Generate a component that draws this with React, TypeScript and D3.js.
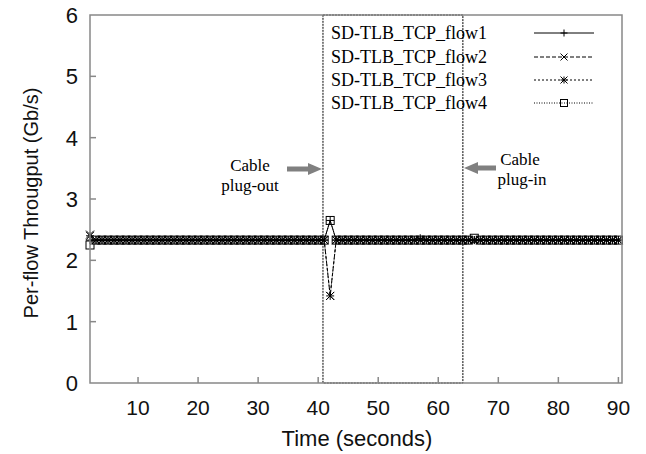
import React from "react";
import * as d3 from "d3";

const times = [
  2, 3, 4, 5, 6, 7, 8, 9, 10, 11,
  12, 13, 14, 15, 16, 17, 18, 19, 20, 21,
  22, 23, 24, 25, 26, 27, 28, 29, 30, 31,
  32, 33, 34, 35, 36, 37, 38, 39, 40, 41,
  42, 43, 44, 45, 46, 47, 48, 49, 50, 51,
  52, 53, 54, 55, 56, 57, 58, 59, 60, 61,
  62, 63, 64, 65, 66, 67, 68, 69, 70, 71,
  72, 73, 74, 75, 76, 77, 78, 79, 80, 81,
  82, 83, 84, 85, 86, 87, 88, 89, 90,
];

const flow1 = [
  2.33, 2.33, 2.33, 2.33, 2.33, 2.33, 2.33, 2.33, 2.33, 2.33,
  2.33, 2.33, 2.33, 2.33, 2.33, 2.33, 2.33, 2.33, 2.33, 2.33,
  2.33, 2.33, 2.33, 2.33, 2.33, 2.33, 2.33, 2.33, 2.33, 2.33,
  2.33, 2.33, 2.33, 2.33, 2.33, 2.33, 2.33, 2.33, 2.33, 2.33,
  2.65, 2.33, 2.33, 2.33, 2.33, 2.33, 2.33, 2.33, 2.33, 2.33,
  2.33, 2.33, 2.33, 2.33, 2.33, 2.36, 2.33, 2.33, 2.33, 2.33,
  2.33, 2.33, 2.33, 2.33, 2.33, 2.33, 2.33, 2.33, 2.33, 2.33,
  2.33, 2.33, 2.33, 2.33, 2.33, 2.33, 2.33, 2.33, 2.33, 2.33,
  2.33, 2.33, 2.33, 2.33, 2.33, 2.33, 2.33, 2.33, 2.33,
];

const flow2 = [
  2.42, 2.33, 2.33, 2.33, 2.33, 2.33, 2.33, 2.33, 2.33, 2.33,
  2.33, 2.33, 2.33, 2.33, 2.33, 2.33, 2.33, 2.33, 2.33, 2.33,
  2.33, 2.33, 2.33, 2.33, 2.33, 2.33, 2.33, 2.33, 2.33, 2.33,
  2.33, 2.33, 2.33, 2.33, 2.33, 2.33, 2.33, 2.33, 2.33, 2.33,
  1.42, 2.33, 2.33, 2.33, 2.33, 2.33, 2.33, 2.33, 2.33, 2.33,
  2.33, 2.33, 2.33, 2.33, 2.33, 2.33, 2.33, 2.33, 2.33, 2.33,
  2.33, 2.33, 2.33, 2.33, 2.33, 2.33, 2.33, 2.33, 2.33, 2.33,
  2.33, 2.33, 2.33, 2.33, 2.33, 2.33, 2.33, 2.33, 2.33, 2.33,
  2.33, 2.33, 2.33, 2.33, 2.33, 2.33, 2.33, 2.33, 2.33,
];

const flow3 = [
  2.4, 2.33, 2.33, 2.33, 2.33, 2.33, 2.33, 2.33, 2.33, 2.33,
  2.33, 2.33, 2.33, 2.33, 2.33, 2.33, 2.33, 2.33, 2.33, 2.33,
  2.33, 2.33, 2.33, 2.33, 2.33, 2.33, 2.33, 2.33, 2.33, 2.33,
  2.33, 2.33, 2.33, 2.33, 2.33, 2.33, 2.33, 2.33, 2.33, 2.33,
  1.42, 2.33, 2.33, 2.33, 2.33, 2.33, 2.33, 2.33, 2.33, 2.33,
  2.33, 2.33, 2.33, 2.33, 2.33, 2.33, 2.33, 2.33, 2.33, 2.33,
  2.33, 2.33, 2.33, 2.33, 2.33, 2.33, 2.33, 2.33, 2.33, 2.33,
  2.33, 2.33, 2.33, 2.33, 2.33, 2.33, 2.33, 2.33, 2.33, 2.33,
  2.33, 2.33, 2.33, 2.33, 2.33, 2.33, 2.33, 2.33, 2.33,
];

const flow4 = [
  2.25, 2.33, 2.33, 2.33, 2.33, 2.33, 2.33, 2.33, 2.33, 2.33,
  2.33, 2.33, 2.33, 2.33, 2.33, 2.33, 2.33, 2.33, 2.33, 2.33,
  2.33, 2.33, 2.33, 2.33, 2.33, 2.33, 2.33, 2.33, 2.33, 2.33,
  2.33, 2.33, 2.33, 2.33, 2.33, 2.33, 2.33, 2.33, 2.33, 2.33,
  2.65, 2.33, 2.33, 2.33, 2.33, 2.33, 2.33, 2.33, 2.33, 2.33,
  2.33, 2.33, 2.33, 2.33, 2.33, 2.33, 2.33, 2.33, 2.33, 2.33,
  2.33, 2.33, 2.33, 2.33, 2.36, 2.33, 2.33, 2.33, 2.33, 2.33,
  2.33, 2.33, 2.33, 2.33, 2.33, 2.33, 2.33, 2.33, 2.33, 2.33,
  2.33, 2.33, 2.33, 2.33, 2.33, 2.33, 2.33, 2.33, 2.33,
];

const seriesNames = ["SD-TLB_TCP_flow1", "SD-TLB_TCP_flow2", "SD-TLB_TCP_flow3", "SD-TLB_TCP_flow4"];
const seriesValues = [flow1, flow2, flow3, flow4];
const seriesMarkers = ["plus", "cross", "star", "square"];
const seriesDash = ["none", "4,2", "2,2", "1,1.5"];

const xTicks = [10, 20, 30, 40, 50, 60, 70, 80, 90];
const yTicks = [0, 1, 2, 3, 4, 5, 6];
const outageStart = 40.8;
const outageEnd = 64.1;

const W = 646;
const H = 454;
const left = 90;
const right = 622;
const top = 15;
const bottom = 383;

const x = d3.scaleLinear().domain([2, 90.6]).range([left, right]);
const y = d3.scaleLinear().domain([0, 6]).range([bottom, top]);

function Marker({ type, cx, cy, r = 4 }: { type: string; cx: number; cy: number; r?: number }) {
  const s = { stroke: "#000", strokeWidth: 1, fill: "none" } as const;
  if (type === "plus")
    return <path d={`M${cx - r},${cy}H${cx + r}M${cx},${cy - r}V${cy + r}`} {...s} />;
  if (type === "cross")
    return (
      <path d={`M${cx - r},${cy - r}L${cx + r},${cy + r}M${cx - r},${cy + r}L${cx + r},${cy - r}`} {...s} />
    );
  if (type === "star")
    return (
      <path
        d={`M${cx - r},${cy}H${cx + r}M${cx},${cy - r}V${cy + r}M${cx - r},${cy - r}L${cx + r},${cy + r}M${cx - r},${cy + r}L${cx + r},${cy - r}`}
        {...s}
      />
    );
  return <rect x={cx - r} y={cy - r} width={2 * r} height={2 * r} {...s} />;
}

function Arrow({ x1, x2, yy }: { x1: number; x2: number; yy: number }) {
  const dir = x2 > x1 ? 1 : -1;
  const headLen = 14;
  const hx = x2 - dir * headLen;
  return (
    <g fill="#808080" stroke="none">
      <rect x={Math.min(x1, hx)} y={yy - 2.5} width={Math.abs(hx - x1)} height={5} />
      <path d={`M${x2},${yy}L${hx},${yy - 6}L${hx},${yy + 6}Z`} />
    </g>
  );
}

export default function App() {
  const line = d3
    .line<number>()
    .x((_, i) => x(times[i]))
    .y((d) => y(d));

  const serif = "'Liberation Serif', 'DejaVu Serif', serif";
  const sans = "'Liberation Sans', Arial, sans-serif";

  const legendX1 = 534;
  const legendX2 = 594;
  const legendRows = [33, 57, 80, 103];

  return (
    <svg width={W} height={H} style={{ position: "absolute", left: 0, top: 0, background: "#fff" }}>
      <rect width={W} height={H} fill="#fff" />
      <rect
        x={x(outageStart)}
        y={top}
        width={x(outageEnd) - x(outageStart)}
        height={bottom - top}
        fill="none"
        stroke="#000"
        strokeWidth={1}
        strokeDasharray="2,1"
      />
      {seriesValues.map((vals, si) => (
        <g key={si}>
          <path d={line(vals) || ""} fill="none" stroke="#000" strokeWidth={1} strokeDasharray={seriesDash[si]} />
          {vals.map((v, i) => (
            <Marker key={i} type={seriesMarkers[si]} cx={x(times[i])} cy={y(v)} />
          ))}
        </g>
      ))}
      <path d={`M${left},${top}H${right}V${bottom}H${left}Z`} fill="none" stroke="#888" strokeWidth={1.5} />
      {yTicks.map((t) => (
        <g key={t}>
          {t > 0 && t < 6 && <line x1={left} x2={left + 6} y1={y(t)} y2={y(t)} stroke="#888" strokeWidth={1.5} />}
          <text x={78} y={y(t) + 8} textAnchor="end" fontFamily={sans} fontSize={22} fill="#111">
            {t}
          </text>
        </g>
      ))}
      {xTicks.map((t) => (
        <g key={t}>
          <line x1={x(t)} x2={x(t)} y1={bottom} y2={bottom - 6} stroke="#888" strokeWidth={1.5} />
          <text x={x(t)} y={415} textAnchor="middle" fontFamily={sans} fontSize={21} fill="#111">
            {t}
          </text>
        </g>
      ))}
      <text
        transform={`translate(38,${(top + bottom) / 2 + 4}) rotate(-90)`}
        textAnchor="middle"
        fontFamily={sans}
        fontSize={20}
        fill="#111"
      >
        Per-flow Througput (Gb/s)
      </text>
      <text x={357} y={446} textAnchor="middle" fontFamily={sans} fontSize={22} fill="#111">
        Time (seconds)
      </text>
      {seriesNames.map((n, i) => (
        <g key={n}>
          <text x={487} y={legendRows[i] + 6} textAnchor="end" fontFamily={serif} fontSize={18} fill="#000">
            {n}
          </text>
          <line
            x1={legendX1}
            x2={legendX2}
            y1={legendRows[i]}
            y2={legendRows[i]}
            stroke="#000"
            strokeWidth={1}
            strokeDasharray={seriesDash[i]}
          />
          <Marker type={seriesMarkers[i]} cx={(legendX1 + legendX2) / 2} cy={legendRows[i]} r={3.5} />
        </g>
      ))}
      <text x={250} y={171} textAnchor="middle" fontFamily={serif} fontSize={17} fill="#000">
        Cable
      </text>
      <text x={250} y={191} textAnchor="middle" fontFamily={serif} fontSize={17} fill="#000">
        plug-out
      </text>
      <Arrow x1={287} x2={322} yy={169} />
      <Arrow x1={496} x2={464} yy={168} />
      <text x={520} y={165} textAnchor="middle" fontFamily={serif} fontSize={17} fill="#000">
        Cable
      </text>
      <text x={522} y={185} textAnchor="middle" fontFamily={serif} fontSize={17} fill="#000">
        plug-in
      </text>
    </svg>
  );
}
